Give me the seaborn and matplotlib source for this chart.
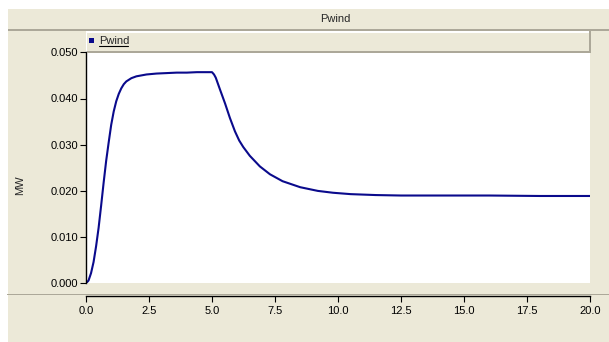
"""Pwind response curve, redrawn in the old Windows plot-window look."""

import matplotlib
matplotlib.use("Agg")
import matplotlib.pyplot as plt
from matplotlib.lines import Line2D
from matplotlib.patches import Rectangle
import seaborn as sns


# values (time in s, power in MW)
time_s = [0.00, 0.10, 0.20, 0.30, 0.40, 0.50, 0.60, 0.70, 0.80, 0.90, 1.00,
          1.10, 1.20, 1.30, 1.40, 1.50, 1.60, 1.80, 2.00, 2.40, 2.80, 3.20,
          3.60, 4.00, 4.40, 4.80, 5.00, 5.08, 5.15, 5.32, 5.52, 5.71, 5.91,
          6.08, 6.24, 6.50, 6.90, 7.30, 7.80, 8.50, 9.20, 9.80, 10.50,
          11.50, 12.50, 14.00, 16.00, 18.00, 20.00]
pwind_mw = [0.0000, 0.0006, 0.0022, 0.0046, 0.0080, 0.0120, 0.0168, 0.0218,
            0.0265, 0.0305, 0.0343, 0.0372, 0.0394, 0.0410, 0.0422, 0.0431,
            0.0437, 0.0444, 0.0448, 0.0452, 0.0454, 0.0455, 0.0456, 0.0456,
            0.0457, 0.0457, 0.0457, 0.0452, 0.0445, 0.0419, 0.0389, 0.0358,
            0.0329, 0.0309, 0.0295, 0.0276, 0.0253, 0.0236, 0.0221, 0.0208,
            0.0200, 0.0196, 0.0193, 0.0191, 0.0190, 0.0190, 0.0190, 0.0189,
            0.0189]
y_ticks = [0.000, 0.010, 0.020, 0.030, 0.040, 0.050]
x_ticks = [0.0, 2.5, 5.0, 7.5, 10.0, 12.5, 15.0, 17.5, 20.0]
title = "Pwind"
series_name = "Pwind"
y_label = "MW"

W, H = 609, 342
BEIGE = "#ECE9D8"
SHADOW = "#ACA899"
NAVY = "#0A0A8C"


def fx(px):
    return px / W


def fy(py):
    return 1 - py / H


def box(fig, x0, y0, x1, y1, color, z=0):
    fig.add_artist(Rectangle((fx(x0), fy(y1)), (x1 - x0) / W, (y1 - y0) / H,
                             transform=fig.transFigure, facecolor=color,
                             edgecolor="none", zorder=z))


sns.set_style("white")
plt.rcParams["font.family"] = ["Liberation Sans", "DejaVu Sans"]
plt.rcParams["font.size"] = 8

fig = plt.figure(figsize=(W / 100, H / 100), dpi=100, facecolor=BEIGE)

# window chrome
box(fig, 0, 0, W, 9, "white")
box(fig, 0, 0, 8, H, "white")
box(fig, 8, 29, W, 30.5, SHADOW)
box(fig, 86, 30.5, 590, 52.3, "white")
box(fig, 87, 32.5, 589, 51, BEIGE, z=1)
box(fig, 87, 51, 591, 52.5, SHADOW, z=1)
box(fig, 589, 31, 591, 52.5, SHADOW, z=1)
box(fig, 7, 293.5, W, 295, SHADOW)

fig.text(fx(335), fy(19.5), title, ha="center", va="center", fontsize=8)

# legend entry
box(fig, 89, 37.5, 94.5, 42.5, NAVY, z=2)
fig.text(fx(99), fy(40.5), series_name, ha="left", va="center", fontsize=8, zorder=3)
fig.add_artist(Line2D([fx(99), fx(128)], [fy(46), fy(46)], transform=fig.transFigure,
                      color="black", linewidth=0.8, zorder=3))

ax = fig.add_axes([fx(86), fy(283.3), (590 - 86) / W, (283.3 - 52.3) / H])
ax.set_facecolor("white")
sns.lineplot(x=time_s, y=pwind_mw, ax=ax, color=NAVY, linewidth=1.5)

ax.set_xlim(0, 20)
ax.set_ylim(0, 0.05)
ax.set_xticks(x_ticks)
ax.set_xticklabels([f"{v:.1f}" for v in x_ticks])
ax.set_yticks(y_ticks)
ax.set_yticklabels([f"{v:.3f}" for v in y_ticks])

for side in ["top", "right"]:
    ax.spines[side].set_visible(False)
for side in ["left", "bottom"]:
    ax.spines[side].set_color("black")
    ax.spines[side].set_linewidth(1.0)
ax.spines["bottom"].set_position(("outward", 9.3))
ax.spines["left"].set_bounds(0, 0.05)

ax.tick_params(axis="both", direction="out", length=4.3, width=0.8,
               colors="black", labelsize=8, left=True, bottom=True)
ax.tick_params(axis="y", pad=1.2)
ax.tick_params(axis="x", pad=3.0)
ax.grid(False)

fig.text(fx(20), fy(185), y_label, rotation=90, ha="center", va="center", fontsize=8)

fig.savefig("out.png", dpi=100, facecolor=BEIGE)
